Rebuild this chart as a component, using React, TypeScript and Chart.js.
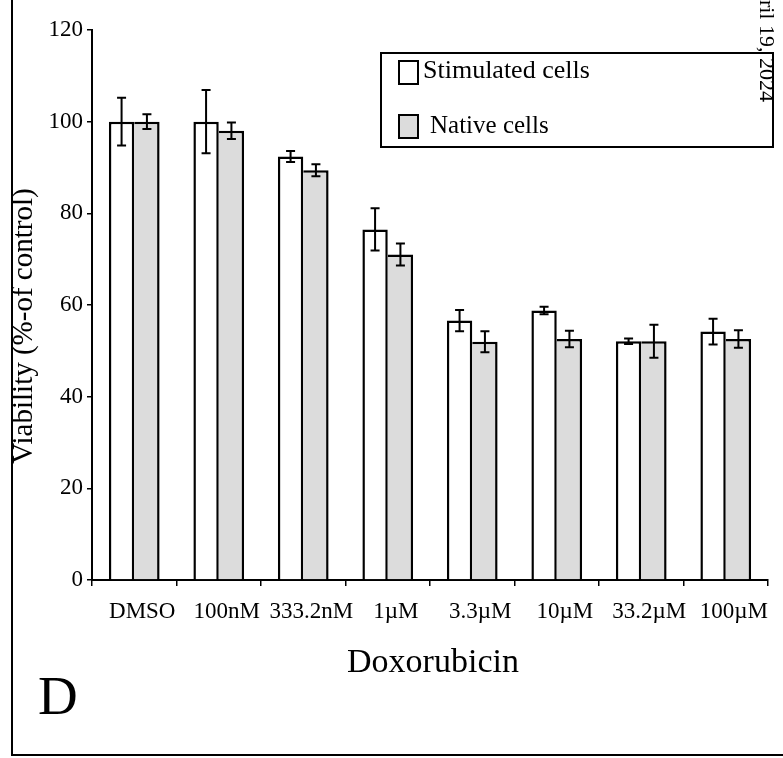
import React, { useEffect, useRef } from "react";
import { Chart, registerables } from "chart.js";

Chart.register(...registerables);

const categories = ["DMSO", "100nM", "333.2nM", "1µM", "3.3µM", "10µM", "33.2µM", "100µM"];
const stimulated = [100, 100, 92.4, 76.5, 56.6, 58.8, 52.1, 54.2];
const stimulatedErr = [5.2, 6.9, 1.2, 4.6, 2.3, 0.8, 0.6, 2.8];
const native = [100, 98, 89.4, 71, 52, 52.6, 52.1, 52.6];
const nativeErr = [1.6, 1.8, 1.3, 2.4, 2.3, 1.8, 3.6, 1.9];
const seriesNames = ["Stimulated cells", "Native cells"];
const errors = [stimulatedErr, nativeErr];
const yTitle = "Viability (%-of control)";
const xTitle = "Doxorubicin";
const panelLetter = "D";
const dateText = "April 19, 2024";

const SERIF = "'Liberation Serif', 'Times New Roman', serif";
const GREY = "#dcdcdc";

const decorPlugin = {
  id: "decor",
  afterDatasetsDraw(chart: any) {
    const ctx = chart.ctx;
    const yScale = chart.scales.y;
    ctx.save();
    ctx.strokeStyle = "#000";
    ctx.lineWidth = 2;
    errors.forEach((errArr, di) => {
      const meta = chart.getDatasetMeta(di);
      const vals = chart.data.datasets[di].data as number[];
      meta.data.forEach((bar: any, i: number) => {
        const v = vals[i];
        const e = errArr[i];
        const yt = yScale.getPixelForValue(v + e);
        const yb = yScale.getPixelForValue(v - e);
        const x = bar.x;
        ctx.beginPath();
        ctx.moveTo(x, yt);
        ctx.lineTo(x, yb);
        ctx.moveTo(x - 4.5, yt);
        ctx.lineTo(x + 4.5, yt);
        ctx.moveTo(x - 4.5, yb);
        ctx.lineTo(x + 4.5, yb);
        ctx.stroke();
      });
    });
    ctx.restore();
  },
  afterDraw(chart: any) {
    const ctx = chart.ctx;
    const area = chart.chartArea;
    ctx.save();
    // frame
    ctx.strokeStyle = "#000";
    ctx.lineWidth = 2;
    ctx.beginPath();
    ctx.moveTo(12, 0);
    ctx.lineTo(12, 755);
    ctx.lineTo(783, 755);
    ctx.stroke();

    // legend
    ctx.fillStyle = "#fff";
    ctx.fillRect(381, 53, 392, 94);
    ctx.strokeRect(381, 53, 392, 94);
    ctx.lineWidth = 2;
    ctx.fillStyle = "#fff";
    ctx.fillRect(399, 61, 19, 23);
    ctx.strokeRect(399, 61, 19, 23);
    ctx.fillStyle = GREY;
    ctx.fillRect(399, 115, 19, 23);
    ctx.strokeRect(399, 115, 19, 23);
    ctx.fillStyle = "#000";
    ctx.textAlign = "left";
    ctx.textBaseline = "alphabetic";
    ctx.font = `26px ${SERIF}`;
    ctx.fillText(seriesNames[0], 423, 78);
    ctx.font = `25px ${SERIF}`;
    ctx.fillText(seriesNames[1], 430, 133);

    // y title
    ctx.save();
    ctx.translate(24, (area.top + area.bottom) / 2 + 21);
    ctx.rotate(-Math.PI / 2);
    ctx.textAlign = "center";
    ctx.textBaseline = "middle";
    ctx.font = `29px ${SERIF}`;
    ctx.fillText(yTitle, 0, 0);
    ctx.restore();

    // x title
    ctx.textAlign = "center";
    ctx.textBaseline = "alphabetic";
    ctx.font = `34px ${SERIF}`;
    ctx.fillText(xTitle, 433, 672);

    // panel letter
    ctx.textAlign = "left";
    ctx.font = `55px ${SERIF}`;
    ctx.fillText(panelLetter, 38, 714);

    // date stamp
    ctx.save();
    ctx.translate(760, -27);
    ctx.rotate(Math.PI / 2);
    ctx.textAlign = "left";
    ctx.textBaseline = "alphabetic";
    ctx.font = `22px ${SERIF}`;
    ctx.fillText(dateText, 0, 0);
    ctx.restore();

    ctx.restore();
  },
};

export default function App() {
  const ref = useRef<HTMLCanvasElement | null>(null);
  useEffect(() => {
    if (!ref.current) return;
    const chart = new Chart(ref.current, {
      type: "bar",
      data: {
        labels: categories,
        datasets: [
          {
            label: seriesNames[0],
            data: stimulated,
            backgroundColor: "#ffffff",
            borderColor: "#000",
            borderWidth: { top: 2.5, left: 2.5, right: 2.5, bottom: 0 },
            borderSkipped: "start",
          },
          {
            label: seriesNames[1],
            data: native,
            backgroundColor: GREY,
            borderColor: "#000",
            borderWidth: { top: 2.5, left: 0, right: 2.5, bottom: 0 },
            borderSkipped: "start",
          },
        ],
      },
      options: {
        responsive: false,
        maintainAspectRatio: false,
        devicePixelRatio: 1,
        animation: false,
        layout: { padding: { left: 0, right: 15, top: 30, bottom: 0 } },
        datasets: { bar: { categoryPercentage: 0.6, barPercentage: 1 } },
        plugins: { legend: { display: false }, tooltip: { enabled: false } },
        scales: {
          x: {
            type: "category",
            offset: true,
            grid: { display: true, drawOnChartArea: false, offset: true, tickLength: 6, color: "#000", lineWidth: 1.5 },
            border: { display: true, color: "#000", width: 2 },
            ticks: {
              color: "#000",
              font: { family: SERIF, size: 23 },
              maxRotation: 0,
              minRotation: 0,
              autoSkip: false,
              padding: 12,
              labelOffset: 8,
            },
            afterFit(scale: any) {
              scale.height = 178;
            },
          },
          y: {
            min: 0,
            max: 120,
            grid: { display: true, drawOnChartArea: false, tickLength: 5, color: "#000", lineWidth: 1.5 },
            border: { display: true, color: "#000", width: 2 },
            ticks: {
              stepSize: 20,
              color: "#000",
              font: { family: SERIF, size: 23 },
              padding: 4,
            },
            afterFit(scale: any) {
              scale.width = 92;
            },
          },
        },
      },
      plugins: [decorPlugin],
    } as any);
    return () => chart.destroy();
  }, []);
  return (
    <div style={{ position: "fixed", left: 0, top: 0, width: 783, height: 758, background: "#fff" }}>
      <canvas ref={ref} width={783} height={758} style={{ display: "block" }} />
    </div>
  );
}
